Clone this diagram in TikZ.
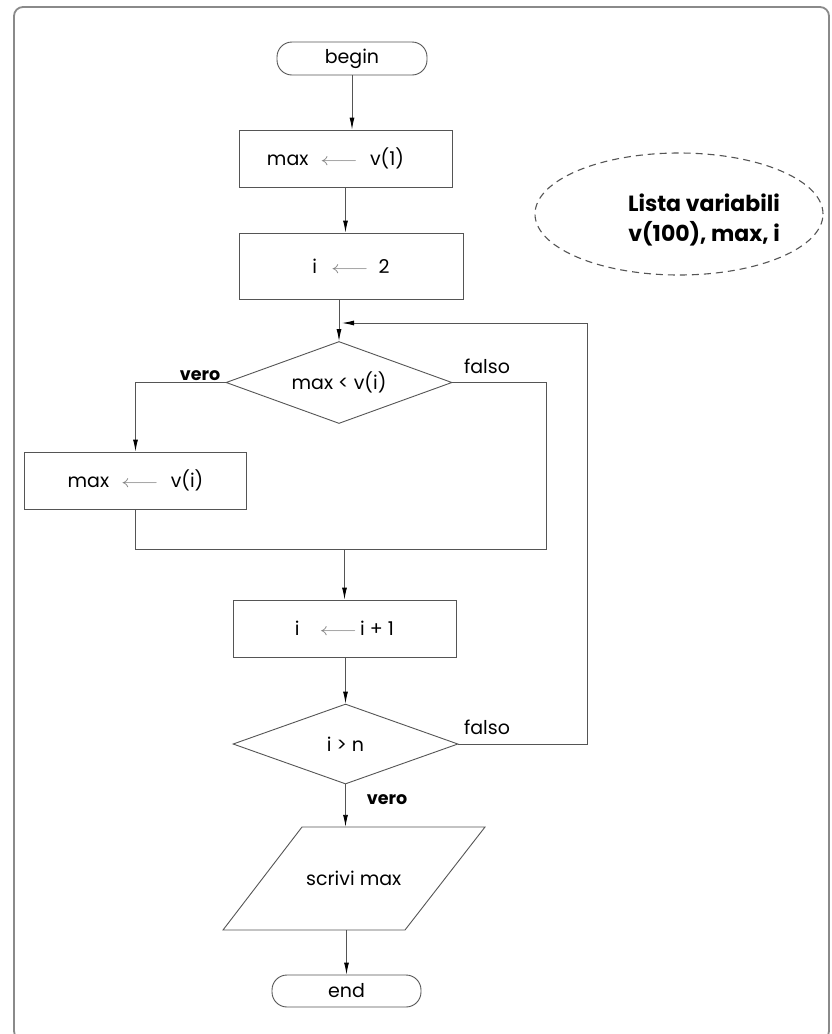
\documentclass[tikz,border=0pt]{standalone}
\usepackage{fontspec}
\setmainfont{Poppins}
\usetikzlibrary{shapes.geometric,arrows.meta}
\definecolor{ln}{HTML}{555555}
\definecolor{fr}{HTML}{8A8A8A}
\newcommand{\asg}[2]{\hspace{#1}\textcolor{gray}{\scalebox{1.35}[1]{$\longleftarrow$}}\hspace{#2}}
\tikzset{
  base/.style={draw=ln, line width=0.9pt, font=\fontsize{19}{22}\selectfont, inner sep=0pt},
  term/.style={base, rectangle, rounded corners=15pt},
  procbox/.style={base, rectangle},
  decis/.style={base, diamond, aspect=2.75},
  conn/.style={draw=ln, line width=0.9pt},
  arr/.style={conn, -{Latex[length=12pt,width=5pt,black]}},
  lab/.style={font=\fontsize{19}{22}\selectfont, inner sep=0pt},
  blab/.style={font=\fontsize{17.5}{20}\selectfont\bfseries, inner sep=0pt},
}
\begin{document}
\begin{tikzpicture}[x=1pt,y=-1pt]
\useasboundingbox (0,0) rectangle (831,1034);
\fill[white] (0,0) rectangle (831,1034);
\draw[fr, line width=1.8pt, rounded corners=9pt] (14,7) rectangle (829,1040);

\node[term, minimum width=150pt, minimum height=33pt] (begin) at (352,58.5) {begin};
\node[procbox, minimum width=213pt, minimum height=57pt] (b1) at (345.5,158.5) {\hspace{-20pt}max\asg{12pt}{12pt}v(1)};
\node[procbox, minimum width=224pt, minimum height=66pt] (b2) at (351,266) {i\asg{14pt}{10pt}2};
\node[decis, minimum width=226pt, minimum height=82pt] (d1) at (339,382.5) {max < v(i)};
\node[procbox, minimum width=222pt, minimum height=57pt] (b3) at (135.5,480.5) {max\asg{12pt}{12pt}v(i)\hspace{26pt}};
\node[procbox, minimum width=223pt, minimum height=57pt] (b4) at (344.5,628.5) {i\asg{20pt}{3pt}i + 1};
\node[decis, minimum width=225pt, minimum height=80pt] (d2) at (345.5,744) {i > n};
\draw[base] (302,827) -- (485,827) -- (405,930) -- (223,930) -- cycle;
\node[lab, minimum width=100pt, minimum height=103pt] (out) at (353.75,878.5) {scrivi max};
\node[term, minimum width=149pt, minimum height=32pt] (end) at (346.5,991) {end};

\node[draw=ln, dashed, line width=1.1pt, ellipse, minimum width=288pt, minimum height=122pt, dash pattern=on 7pt off 5pt] (var) at (679,214) {};
\node[lab, font=\fontsize{22}{30}\selectfont\bfseries, align=right, anchor=east] (vartxt) at (780,220) {Lista variabili\\v(100), max, i};

\coordinate (c1) at (587,323);
\coordinate (c2) at (546,549);

\draw[arr] (begin.south) -- (begin.south |- b1.north);
\draw[arr] (b1.south) -- (b1.south |- b2.north);
\draw[arr] (b2.south -| d1.north) -- (d1.north);
\draw[arr] (d1.west) -| (b3.north);
\draw[conn] (d1.east) -| (c2) -- (c2 -| b3.south) -- (b3.south);
\draw[arr] (c2 -| b4.north) -- (b4.north);
\draw[arr] (b4.south -| d2.north) -- (d2.north);
\draw[arr] (d2.east) -| (c1) -- ([xshift=3pt]d1.north |- c1);
\draw[arr] (d2.south) -- (d2.south |- out.north);
\draw[arr] (end.north |- out.south) -- (end.north);

\node[blab] (v1) at (200,376) {vero};
\node[lab] (f1) at (487,366) {falso};
\node[lab] (f2) at (487,727) {falso};
\node[blab] (v2) at (387,800) {vero};
\end{tikzpicture}
\end{document}
